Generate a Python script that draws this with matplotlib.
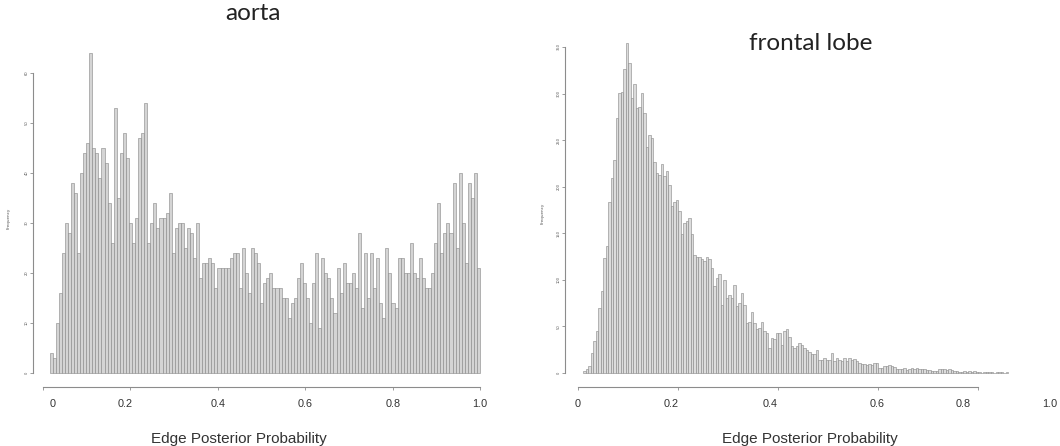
import numpy as np
import matplotlib
matplotlib.use("Agg")
import matplotlib.pyplot as plt

# Frequencies (left: aorta, right: frontal lobe)
aorta_counts = [4, 3, 10, 16, 24, 30, 28, 38, 36, 24, 40, 44, 46, 64, 45, 44, 39, 45, 42, 34,
                26, 53, 35, 44, 48, 43, 30, 26, 31, 47, 48, 54, 26, 30, 34, 29, 31, 31, 32, 36,
                24, 29, 30, 30, 25,
                29, 28, 23, 30, 19, 22, 22, 23, 22, 17, 21, 21, 21, 21, 23, 24, 24, 17, 25, 20,
                16, 25, 24, 22, 14, 18, 19, 20, 17, 17, 17, 15, 15, 11, 14, 15, 19, 22, 18, 15,
                10, 18, 24, 9, 23, 20, 19, 15,
                12, 21, 16, 22, 18, 18, 20, 17, 28, 13, 24, 15, 24, 17, 23, 14, 11, 25, 20, 14,
                13, 23, 23, 20, 20, 26, 20, 19, 23, 19, 17, 17, 20, 26, 34, 24, 28, 30, 28, 38,
                25, 40, 30, 22, 38, 35, 40, 21]
aorta_range = (0.015, 1.0)

frontal_counts = [2, 4, 7, 21, 34, 45, 70, 88, 124, 136, 184, 209, 229, 274, 301, 302, 326, 354,
                  333, 295, 310, 285, 286, 301, 279, 243, 256, 252, 227, 215, 213, 224, 211, 217,
                  202, 179, 184, 186, 174, 149, 161, 163, 166, 149, 127, 125,
                  125, 122, 120, 125, 122, 113, 93, 102, 106, 73, 100, 81, 84, 81, 95, 72, 75, 86,
                  73, 54, 55, 66, 54, 47, 48, 55, 45, 43, 27, 38, 36, 43, 43, 30, 45, 47, 39, 29,
                  27, 29, 32, 30, 27, 25, 23, 20, 20, 25, 14, 14, 16, 14, 14, 21, 13, 16, 14, 13,
                  16, 13,
                  16, 14, 15, 13, 11, 10, 10, 9, 10, 9, 11, 11, 5, 5, 8, 7, 9, 7, 6, 4, 4, 4, 5, 3,
                  4, 5, 4, 5, 4, 4, 4, 3, 3, 2, 2, 2, 4, 4, 4, 3, 4, 3, 2, 2, 1, 1, 2, 1, 2, 1, 2,
                  1, 1, 0, 1, 1, 1, 1, 0, 1, 1, 1, 0, 1]
frontal_start = 0.01
frontal_binwidth = 0.005

aorta_yticks = [0, 10, 20, 30, 40, 50, 60]
frontal_yticks = [0, 50, 100, 150, 200, 250, 300, 350]
aorta_xticks = [0, 0.2, 0.4, 0.6, 0.8, 1.0]
frontal_xticks = [0, 0.2, 0.4, 0.6, 0.8]
# the big x labels pasted on the figure (they do not sit exactly on the ticks)
xlabel_texts = ["0", "0.2", "0.4", "0.6", "0.8", "1.0"]
aorta_label_pos = [0.023, 0.188, 0.401, 0.6, 0.801, 1.0]
frontal_label_pos = [0.0, 0.186, 0.384, 0.598, 0.77, 0.944]

W, H = 1060, 446
fig = plt.figure(figsize=(W / 100, H / 100), dpi=100)

BAR_FC = "#d4d4d4"
BAR_EC = "#858585"
AX_C = "#8c8c8c"


def make_axes(box, x0px, xpx_per_unit, y0px, ypx_per_unit):
    # box = (left, top, right, bottom) in pixels from the top-left corner
    l, t, r, b = box
    ax = fig.add_axes([l / W, (H - b) / H, (r - l) / W, (b - t) / H])
    ax.set_xlim((l - x0px) / xpx_per_unit, (r - x0px) / xpx_per_unit)
    ax.set_ylim((y0px - b) / ypx_per_unit, (y0px - t) / ypx_per_unit)
    ax.patch.set_alpha(0)
    for s in ["top", "right"]:
        ax.spines[s].set_visible(False)
    for s in ["left", "bottom"]:
        ax.spines[s].set_color(AX_C)
        ax.spines[s].set_linewidth(0.8)
    ax.tick_params(axis="both", colors=AX_C, length=2, width=0.6, pad=1)
    return ax


def finish(ax, xticks, yticks, label_pos, title, title_xy, xlab_x, ylab_x):
    ax.set_xticks(xticks)
    ax.set_xticklabels([])
    ax.set_yticks(yticks)
    ax.set_yticklabels([str(v) for v in yticks], rotation=90, fontsize=2.6,
                       color="#555555", va="center")
    ax.spines["left"].set_bounds(yticks[0], yticks[-1])
    ax.spines["bottom"].set_bounds(xticks[0], xticks[-1])
    tr = ax.get_xaxis_transform()
    for txt, xp in zip(xlabel_texts, label_pos):
        ax.text(xp, -0.05, txt, transform=tr, ha="center", va="center",
                fontsize=7.8, color="#333333", family="Liberation Sans", clip_on=False)
    fig.text(xlab_x / W, 1 - 439 / H, "Edge Posterior Probability",
             ha="center", va="center", fontsize=11, color="#333333",
             family="Liberation Sans")
    ax.text(ylab_x, 0.5, "Frequency", transform=ax.transAxes, rotation=90,
            ha="center", va="center", fontsize=3, color="#555555")
    fig.text(title_xy[0] / W, 1 - title_xy[1] / H, title, ha="center", va="center",
             fontsize=17.5, color="#222222", family="Lato")


# left: aorta
ax1 = make_axes((33, 50, 490, 387), 43, 437.0, 373, 5.0)
edges1 = np.linspace(aorta_range[0], aorta_range[1], len(aorta_counts) + 1)
ax1.bar(edges1[:-1], aorta_counts, width=np.diff(edges1), align="edge",
        color=BAR_FC, edgecolor=BAR_EC, linewidth=0.4)
finish(ax1, aorta_xticks, aorta_yticks, aorta_label_pos, "aorta", (253, 13), 239, -0.053)

# right: frontal lobe
ax2 = make_axes((565, 40, 1015, 387), 578, 500.0, 373, 326.0 / 350.0)
left2 = frontal_start + frontal_binwidth * np.arange(len(frontal_counts))
ax2.bar(left2, frontal_counts, width=frontal_binwidth, align="edge",
        color="#dcdcdc", edgecolor=BAR_EC, linewidth=0.4)
finish(ax2, frontal_xticks, frontal_yticks, frontal_label_pos, "frontal lobe", (811, 43),
       810, -0.05)

fig.savefig("out.png", dpi=100, facecolor="white")
